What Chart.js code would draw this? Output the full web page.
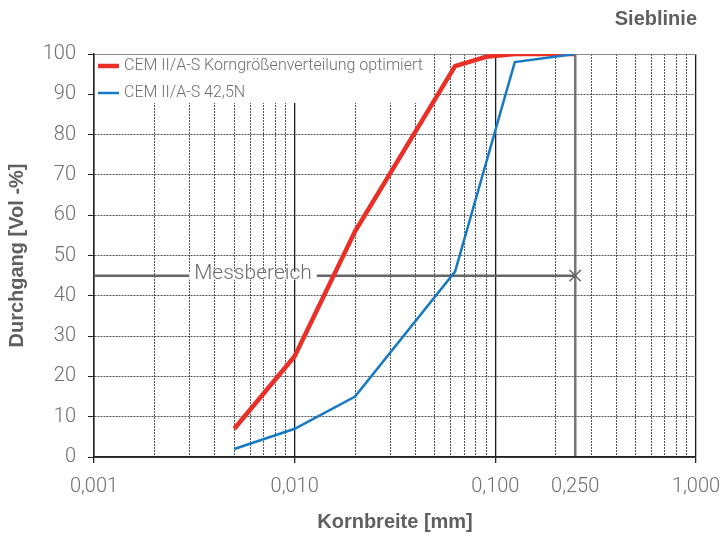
<!DOCTYPE html>
<html>
<head>
<meta charset="utf-8">
<script src="https://cdn.jsdelivr.net/npm/chart.js@4.4.1/dist/chart.umd.min.js"></script>
<style>
  html, body { margin: 0; padding: 0; background: #fff; }
  #wrap { width: 723px; height: 536px; }
</style>
</head>
<body>
<div id="wrap"><canvas id="sieblinie"></canvas></div>
<script>
// Sieblinie - Korngrößenverteilung
const seriesNames = ['CEM II/A-S Korngrößenverteilung optimiert', 'CEM II/A-S 42,5N'];

const optimiertX = [0.005, 0.01, 0.02, 0.063, 0.09, 0.125, 0.25];
const optimiertY = [7, 25, 56, 97, 99.3, 100, 100];

const standardX = [0.005, 0.01, 0.02, 0.063, 0.125, 0.25];
const standardY = [2, 7, 15, 46, 98, 100];

// Messbereich
const messX = [0.001, 0.25];
const messY = [45, 45];
const messLabel = 'Messbereich';
const messLabelAt = 0.0062;

// x ticks (log grid)
const xGridTicks = [
  0.001, 0.002, 0.003, 0.004, 0.005, 0.006, 0.007, 0.008, 0.009,
  0.01, 0.02, 0.03, 0.04, 0.05, 0.06, 0.07, 0.08, 0.09,
  0.1, 0.2, 0.25, 0.3, 0.4, 0.5, 0.6, 0.7, 0.8, 0.9,
  1
];
const xMajor = [0.001, 0.01, 0.1, 1];
const xLabeled = [0.001, 0.01, 0.1, 0.25, 1];
const xLabels = ['0,001', '0,010', '0,100', '0,250', '1,000'];

const tickFont = { family: 'Roboto, "Liberation Sans", sans-serif', size: 20, weight: '300' };
const boldFont = '"Liberation Sans", Arial, sans-serif';
const gray = '#6e6e6e';
const gridGray = '#555';

function toPoints(xs, ys) {
  return xs.map((x, i) => ({ x: x, y: ys[i] }));
}
function isIn(list, v) {
  return list.some(m => Math.abs(m - v) < 1e-9);
}

// white legend box in the plot, title, label on the Messbereich line
const overlayPlugin = {
  id: 'overlay',
  beforeDatasetsDraw(chart) {
    const { ctx, chartArea } = chart;
    const ds = chart.data.datasets;
    ctx.save();
    ctx.font = '300 16px Roboto, "Liberation Sans", sans-serif';
    const w = ctx.measureText(seriesNames[0]).width;
    ctx.fillStyle = '#fff';
    ctx.fillRect(chartArea.left + 1, chartArea.top + 1, w + 40, 48);
    const rows = [chartArea.top + 12, chartArea.top + 39];
    [0, 1].forEach(i => {
      const y = rows[i];
      ctx.strokeStyle = ds[i].borderColor;
      ctx.lineWidth = i === 0 ? 4.5 : 2.5;
      ctx.beginPath();
      ctx.moveTo(chartArea.left + 4, y);
      ctx.lineTo(chartArea.left + 25, y);
      ctx.stroke();
      ctx.fillStyle = gray;
      ctx.textBaseline = 'middle';
      ctx.fillText(seriesNames[i], chartArea.left + 30, y);
    });
    ctx.restore();
  },
  afterDatasetsDraw(chart) {
    const { ctx, chartArea } = chart;
    const xs = chart.scales.x, ys = chart.scales.y;
    const px = xs.getPixelForValue(messLabelAt);
    const py = ys.getPixelForValue(messY[0]);
    ctx.save();
    ctx.font = '300 21px Roboto, "Liberation Sans", sans-serif';
    const w = ctx.measureText(messLabel).width;
    ctx.fillStyle = '#fff';
    ctx.fillRect(px - w / 2 - 5, py - 4, w + 10, 8);
    ctx.fillStyle = gray;
    ctx.textAlign = 'center';
    ctx.textBaseline = 'middle';
    ctx.fillText(messLabel, px, py - 2);

    ctx.font = 'bold 20px ' + boldFont;
    ctx.fillStyle = '#5f5f5f';
    ctx.textAlign = 'right';
    ctx.fillText('Sieblinie', chartArea.right + 1, 19);
    ctx.restore();
  }
};

new Chart(document.getElementById('sieblinie'), {
  type: 'line',
  data: {
    datasets: [
      {
        label: seriesNames[0],
        data: toPoints(optimiertX, optimiertY),
        borderColor: '#ea2f27',
        borderWidth: 4.5,
        pointRadius: 0,
        tension: 0,
        order: 1
      },
      {
        label: seriesNames[1],
        data: toPoints(standardX, standardY),
        borderColor: '#157ac3',
        borderWidth: 2.5,
        pointRadius: 0,
        tension: 0,
        order: 0
      },
      {
        label: messLabel,
        data: toPoints(messX, messY),
        borderColor: '#666',
        borderWidth: 2.5,
        pointStyle: 'crossRot',
        pointRadius: [0, 8],
        pointBorderWidth: 1.5,
        pointBorderColor: '#666',
        order: 2
      }
    ]
  },
  options: {
    responsive: true,
    maintainAspectRatio: false,
    animation: false,
    layout: { padding: { left: 0, right: 27, top: 54, bottom: 0 } },
    plugins: {
      legend: { display: false },
      tooltip: { enabled: false },
      title: { display: false }
    },
    scales: {
      x: {
        type: 'logarithmic',
        min: 0.001,
        max: 1,
        afterBuildTicks(scale) {
          scale.ticks = xGridTicks.map(v => ({ value: v, major: isIn(xMajor, v) }));
        },
        afterFit(scale) {
          scale.height = 79;
          scale.paddingLeft = 0;
          scale.paddingRight = 0;
        },
        ticks: {
          autoSkip: false,
          maxRotation: 0,
          minRotation: 0,
          padding: 12,
          color: gray,
          font: tickFont,
          callback(value) {
            const i = xLabeled.findIndex(v => Math.abs(v - value) < 1e-9);
            return i >= 0 ? xLabels[i] : '';
          }
        },
        grid: {
          drawTicks: true,
          tickLength: 6,
          color(ctx) {
            const v = ctx.tick && ctx.tick.value;
            if (v === undefined) return '#222';
            if (isIn(xMajor, v)) return '#1a1a1a';
            if (Math.abs(v - 0.25) < 1e-9) return '#777';
            return gridGray;
          },
          lineWidth(ctx) {
            const v = ctx.tick && ctx.tick.value;
            if (v === undefined) return 1;
            if (isIn(xMajor, v)) return 1.3;
            if (Math.abs(v - 0.25) < 1e-9) return 2.5;
            return 1;
          },
          tickColor(ctx) {
            const v = ctx.tick && ctx.tick.value;
            return v !== undefined && isIn(xMajor, v) ? '#222' : 'rgba(0,0,0,0)';
          }
        },
        border: {
          color: '#222',
          width: 1.5,
          dash(ctx) {
            const v = ctx.tick && ctx.tick.value;
            if (v === undefined || isIn(xMajor, v) || Math.abs(v - 0.25) < 1e-9) return [];
            return [2, 1];
          }
        },
        title: {
          display: true,
          text: 'Kornbreite [mm]',
          color: '#5f5f5f',
          font: { family: boldFont, size: 20, weight: 'bold' },
          padding: { top: 0, bottom: 2 }
        }
      },
      y: {
        min: 0,
        max: 100,
        afterFit(scale) {
          scale.width = 94;
        },
        ticks: {
          stepSize: 10,
          padding: 12,
          color: gray,
          font: tickFont
        },
        grid: {
          tickLength: 6,
          color(ctx) {
            return ctx.tick && ctx.tick.value === 100 ? '#888' : gridGray;
          },
          lineWidth: 1,
          tickColor: '#222'
        },
        border: {
          color: '#222',
          width: 1.5,
          dash(ctx) {
            const v = ctx.tick && ctx.tick.value;
            if (v === undefined || v === 100 || v === 0) return [];
            return [2, 1];
          }
        },
        title: {
          display: true,
          text: 'Durchgang [Vol -%]',
          color: '#5f5f5f',
          font: { family: boldFont, size: 20, weight: 'bold' },
          padding: { top: 5, bottom: 0 }
        }
      }
    }
  },
  plugins: [overlayPlugin]
});
</script>
</body>
</html>
